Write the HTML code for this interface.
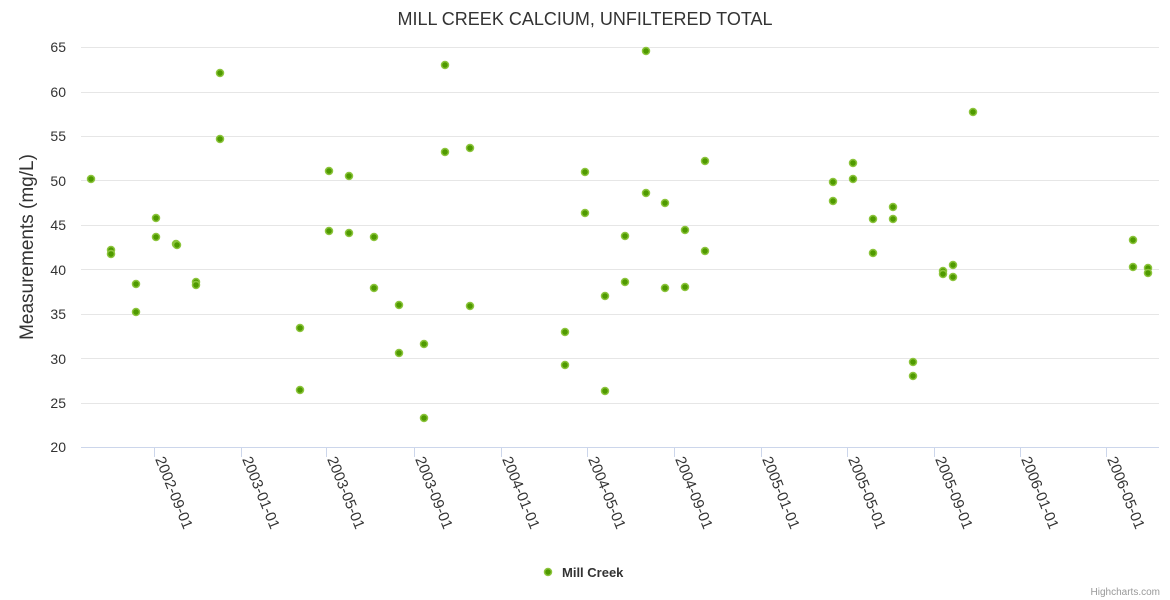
<!DOCTYPE html>
<html><head><meta charset="utf-8"><style>
html,body{margin:0;padding:0;background:#fff;}
svg{display:block;font-family:"Liberation Sans","DejaVu Sans",sans-serif;}
</style></head><body>
<svg width="1170" height="600" xmlns="http://www.w3.org/2000/svg">
<rect width="1170" height="600" fill="#fff"/>
<text x="585" y="25" text-anchor="middle" font-size="18" fill="#333">MILL CREEK CALCIUM, UNFILTERED TOTAL</text>
<g stroke="#e6e6e6" stroke-width="1">
<line x1="81" x2="1159" y1="47.5" y2="47.5"/>
<line x1="81" x2="1159" y1="92.5" y2="92.5"/>
<line x1="81" x2="1159" y1="136.5" y2="136.5"/>
<line x1="81" x2="1159" y1="180.5" y2="180.5"/>
<line x1="81" x2="1159" y1="225.5" y2="225.5"/>
<line x1="81" x2="1159" y1="269.5" y2="269.5"/>
<line x1="81" x2="1159" y1="314.5" y2="314.5"/>
<line x1="81" x2="1159" y1="358.5" y2="358.5"/>
<line x1="81" x2="1159" y1="403.5" y2="403.5"/>
</g>
<line x1="81" x2="1159" y1="447.5" y2="447.5" stroke="#ccd6eb"/>
<g font-size="14" fill="#333" text-anchor="end">
<text x="66" y="52">65</text><text x="66" y="97">60</text><text x="66" y="141">55</text><text x="66" y="186">50</text><text x="66" y="230">45</text><text x="66" y="275">40</text><text x="66" y="319">35</text><text x="66" y="364">30</text><text x="66" y="408">25</text><text x="66" y="452">20</text>
</g>
<text transform="translate(33,247) rotate(-90)" text-anchor="middle" font-size="19" fill="#333">Measurements (mg/L)</text>
<g stroke="#ccd6eb">
<line x1="154.5" x2="154.5" y1="447" y2="457"/><line x1="241.5" x2="241.5" y1="447" y2="457"/><line x1="326.5" x2="326.5" y1="447" y2="457"/><line x1="414.5" x2="414.5" y1="447" y2="457"/><line x1="501.5" x2="501.5" y1="447" y2="457"/><line x1="587.5" x2="587.5" y1="447" y2="457"/><line x1="674.5" x2="674.5" y1="447" y2="457"/><line x1="761.5" x2="761.5" y1="447" y2="457"/><line x1="847.5" x2="847.5" y1="447" y2="457"/><line x1="934.5" x2="934.5" y1="447" y2="457"/><line x1="1020.5" x2="1020.5" y1="447" y2="457"/><line x1="1106.5" x2="1106.5" y1="447" y2="457"/>
</g>
<g font-size="15" fill="#333">
<text transform="translate(155,459) rotate(68)">2002-09-01</text>
<text transform="translate(242,459) rotate(68)">2003-01-01</text>
<text transform="translate(327,459) rotate(68)">2003-05-01</text>
<text transform="translate(415,459) rotate(68)">2003-09-01</text>
<text transform="translate(502,459) rotate(68)">2004-01-01</text>
<text transform="translate(588,459) rotate(68)">2004-05-01</text>
<text transform="translate(675,459) rotate(68)">2004-09-01</text>
<text transform="translate(762,459) rotate(68)">2005-01-01</text>
<text transform="translate(848,459) rotate(68)">2005-05-01</text>
<text transform="translate(935,459) rotate(68)">2005-09-01</text>
<text transform="translate(1021,459) rotate(68)">2006-01-01</text>
<text transform="translate(1107,459) rotate(68)">2006-05-01</text>
</g>
<g fill="#4f9a00" stroke="#8cc43c" stroke-width="1.5">
<circle cx="91" cy="179" r="3.5"/><circle cx="111" cy="250" r="3.5"/><circle cx="111" cy="254" r="3.5"/><circle cx="136" cy="284" r="3.5"/><circle cx="136" cy="312" r="3.5"/><circle cx="156" cy="218" r="3.5"/><circle cx="156" cy="237" r="3.5"/><circle cx="176" cy="244" r="3.5"/><circle cx="177" cy="245" r="3.5"/><circle cx="196" cy="282" r="3.5"/><circle cx="196" cy="285" r="3.5"/><circle cx="220" cy="73" r="3.5"/><circle cx="220" cy="139" r="3.5"/><circle cx="300" cy="328" r="3.5"/><circle cx="300" cy="390" r="3.5"/><circle cx="329" cy="171" r="3.5"/><circle cx="329" cy="231" r="3.5"/><circle cx="349" cy="176" r="3.5"/><circle cx="349" cy="233" r="3.5"/><circle cx="374" cy="237" r="3.5"/><circle cx="374" cy="288" r="3.5"/><circle cx="399" cy="305" r="3.5"/><circle cx="399" cy="353" r="3.5"/><circle cx="424" cy="344" r="3.5"/><circle cx="424" cy="418" r="3.5"/><circle cx="445" cy="65" r="3.5"/><circle cx="445" cy="152" r="3.5"/><circle cx="470" cy="148" r="3.5"/><circle cx="470" cy="306" r="3.5"/><circle cx="565" cy="332" r="3.5"/><circle cx="565" cy="365" r="3.5"/><circle cx="585" cy="172" r="3.5"/><circle cx="585" cy="213" r="3.5"/><circle cx="605" cy="296" r="3.5"/><circle cx="605" cy="391" r="3.5"/><circle cx="625" cy="236" r="3.5"/><circle cx="625" cy="282" r="3.5"/><circle cx="646" cy="51" r="3.5"/><circle cx="646" cy="193" r="3.5"/><circle cx="665" cy="203" r="3.5"/><circle cx="665" cy="288" r="3.5"/><circle cx="685" cy="230" r="3.5"/><circle cx="685" cy="287" r="3.5"/><circle cx="705" cy="161" r="3.5"/><circle cx="705" cy="251" r="3.5"/><circle cx="833" cy="182" r="3.5"/><circle cx="833" cy="201" r="3.5"/><circle cx="853" cy="163" r="3.5"/><circle cx="853" cy="179" r="3.5"/><circle cx="873" cy="219" r="3.5"/><circle cx="873" cy="253" r="3.5"/><circle cx="893" cy="207" r="3.5"/><circle cx="893" cy="219" r="3.5"/><circle cx="913" cy="362" r="3.5"/><circle cx="913" cy="376" r="3.5"/><circle cx="943" cy="271" r="3.5"/><circle cx="943" cy="274" r="3.5"/><circle cx="953" cy="265" r="3.5"/><circle cx="953" cy="277" r="3.5"/><circle cx="973" cy="112" r="3.5"/><circle cx="1133" cy="240" r="3.5"/><circle cx="1133" cy="267" r="3.5"/><circle cx="1148" cy="268" r="3.5"/><circle cx="1148" cy="273" r="3.5"/>
<circle cx="548" cy="572" r="3.5"/>
</g>
<text x="562" y="577" font-size="13" font-weight="bold" fill="#333">Mill Creek</text>
<text x="1160" y="595" text-anchor="end" font-size="10" fill="#999">Highcharts.com</text>
</svg>
</body></html>
